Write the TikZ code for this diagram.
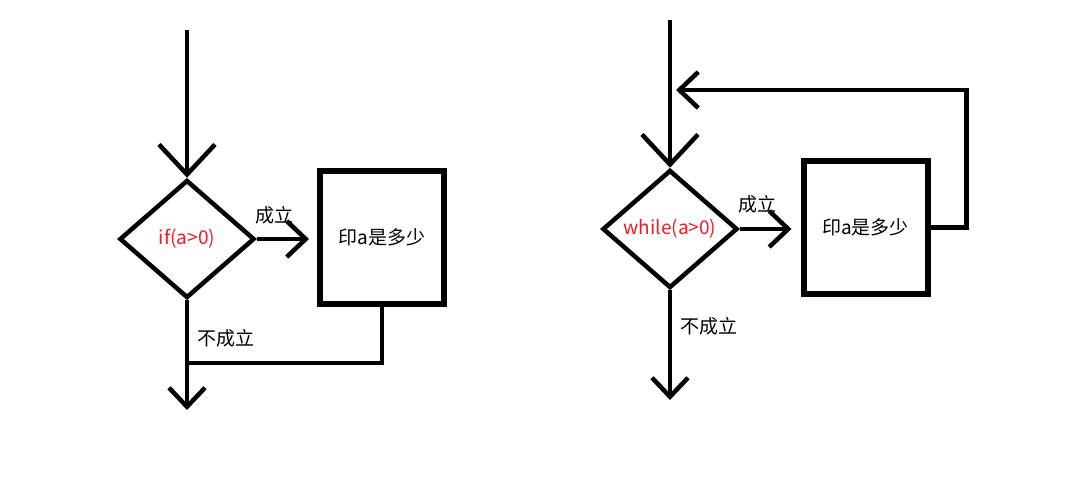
\documentclass[tikz,border=0pt]{standalone}
\usepackage{fontspec}
\setmainfont{Noto Sans CJK SC}
\usepackage{xcolor}
\usepackage{tikz}
\usetikzlibrary{arrows.meta,shapes.geometric}
\definecolor{paintred}{RGB}{237,28,36}

\begin{document}
\begin{tikzpicture}[
  x=1pt, y=-1pt,
  line/.style={line width=4.5pt},
  cond/.style={diamond, draw, line width=4.5pt, inner sep=0pt, minimum width=135pt, minimum height=118pt, text=paintred, font=\fontsize{19}{22}\selectfont},
  box/.style={draw, line width=6pt, inner sep=0pt, minimum width=124pt, minimum height=133pt, font=\fontsize{19}{22}\selectfont},
  label/.style={font=\fontsize{19}{22}\selectfont},
  entry/.style={line, -{Straight Barb[length=30pt, width=56pt]}},
  arrow/.style={line, -{Straight Barb[length=19pt, width=36pt]}}]
\useasboundingbox (0,0) rectangle (1092,488);
% if
\coordinate (inL) at (187,30);
\node[cond] (condL) at (187,239) {if(a>0)};
\node[box] (bodyL) at (382,237.5) {印a是多少};
\coordinate (mergeL) at (187,363);
\coordinate (outL) at (187,410);
\draw[entry] (inL) -- (condL.north);
\draw[arrow, shorten >=8pt] (condL.east) -- (condL.east -| bodyL.west);
\draw[line] (bodyL.south) |- (mergeL);
\draw[arrow] (condL.south) -- (outL);
\node[label] (yesL) at (274,215) {成立};
\node[label] (noL) at (226,338) {不成立};
% while
\coordinate (inR) at (670,20);
\node[cond] (condR) at (670,229) {while(a>0)};
\node[box] (bodyR) at (865.5,227.5) {印a是多少};
\coordinate (loopR) at (676,90);
\coordinate (outR) at (670,400);
\draw[entry] (inR) -- (condR.north);
\draw[arrow, shorten >=9pt] (condR.east) -- (condR.east -| bodyR.west);
\draw[arrow] (bodyR.east) -- ++(36,0) |- (loopR);
\draw[arrow] (condR.south) -- (outR);
\node[label] (yesR) at (757,204) {成立};
\node[label] (noR) at (709,326) {不成立};
\end{tikzpicture}
\end{document}
